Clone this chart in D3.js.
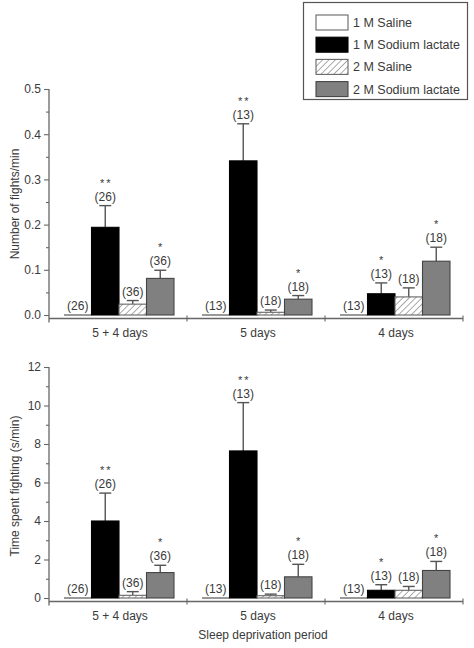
<!DOCTYPE html>
<html>
<head>
<meta charset="utf-8">
<script src="https://cdn.jsdelivr.net/npm/d3@7"></script>
<style>
  html, body { margin: 0; padding: 0; background: #fff; }
  svg { display: block; font-family: "Liberation Sans", Arial, sans-serif; }
</style>
</head>
<body>
<svg id="chart" width="474" height="648"></svg>
<script>
// ---- data ----
const groups = ["5 + 4 days", "5 days", "4 days"];
const series = ["1 M Saline", "1 M Sodium lactate", "2 M Saline", "2 M Sodium lactate"];

const fightsMean = [[0, 0.194, 0.024, 0.081], [0, 0.341, 0.006, 0.035], [0, 0.047, 0.040, 0.119]];
const fightsErr  = [[0, 0.242, 0.032, 0.099], [0, 0.423, 0.011, 0.043], [0, 0.071, 0.060, 0.150]];
const timeMean   = [[0, 4.0, 0.14, 1.32], [0, 7.64, 0.12, 1.10], [0, 0.40, 0.40, 1.43]];
const timeErr    = [[0, 5.45, 0.33, 1.70], [0, 10.15, 0.20, 1.75], [0, 0.69, 0.60, 1.90]];
const nLabels    = [[26, 26, 36, 36], [13, 13, 18, 18], [13, 13, 18, 18]];
const sigLabels  = [["", "**", "", "*"], ["", "**", "", "*"], ["", "*", "", "*"]];

const fightsTicks = [0.0, 0.1, 0.2, 0.3, 0.4, 0.5];
const fightsMinor = [0.05, 0.15, 0.25, 0.35, 0.45];
const timeTicks = [0, 2, 4, 6, 8, 10, 12];
const timeMinor = [1, 3, 5, 7, 9, 11];

const yTitles = ["Number of fights/min", "Time spent fighting (s/min)"];
const xTitle = "Sleep deprivation period";

// ---- layout ----
const svg = d3.select("#chart");
const axisColor = "#666";
const textColor = "#3a3a3a";
const fs = 12;

const defs = svg.append("defs");
const pat = defs.append("pattern")
  .attr("id", "hatch").attr("patternUnits", "userSpaceOnUse")
  .attr("width", 4.5).attr("height", 4.5)
  .attr("patternTransform", "rotate(45)");
pat.append("rect").attr("width", 4.5).attr("height", 4.5).attr("fill", "#fff");
pat.append("line").attr("x1", 0).attr("y1", 0).attr("x2", 0).attr("y2", 4.5)
  .attr("stroke", "#666").attr("stroke-width", 1.1);

const fills = ["#ffffff", "#000000", "url(#hatch)", "#808080"];
const strokes = ["#666", "#000", "#666", "#444"];

const x0 = d3.scaleBand().domain(groups).range([49, 463]);
const x1 = d3.scaleBand().domain(series).range([15, 125]);

function panel(opts) {
  const { yDomain, yTop, yBottom, ticks, minor, fmt, mean, err, title, titleY, showXTitle } = opts;
  const y = d3.scaleLinear().domain(yDomain).range([yBottom, yTop]);
  const g = svg.append("g");
  const xAxisY = yBottom + 3.5;

  // y axis
  const yAxis = d3.axisLeft(y).tickValues(ticks).tickFormat(fmt).tickSize(5).tickSizeOuter(0);
  const ya = g.append("g").attr("transform", "translate(49,0)").call(yAxis);
  ya.select(".domain").remove();
  ya.selectAll(".tick line").attr("stroke", axisColor).attr("stroke-width", 1.1);
  ya.selectAll(".tick text").attr("fill", textColor).attr("font-size", fs)
    .attr("font-family", "Liberation Sans, Arial, sans-serif").attr("x", -8);
  const yMinor = d3.axisLeft(y).tickValues(minor).tickFormat("").tickSize(3).tickSizeOuter(0);
  const ym = g.append("g").attr("transform", "translate(49,0)").call(yMinor);
  ym.select(".domain").remove();
  ym.selectAll(".tick line").attr("stroke", axisColor).attr("stroke-width", 1.1);
  g.append("line").attr("x1", 49).attr("x2", 49).attr("y1", y(yDomain[1])).attr("y2", xAxisY + 4)
    .attr("stroke", axisColor).attr("stroke-width", 1.3);

  // x axis
  g.append("line").attr("x1", 49).attr("x2", 463).attr("y1", xAxisY).attr("y2", xAxisY)
    .attr("stroke", axisColor).attr("stroke-width", 1.3);
  const bounds = groups.slice(1).map(d => x0(d)).concat([x0.range()[1]]);
  g.selectAll(".xt").data(bounds).enter().append("line")
    .attr("x1", d => d).attr("x2", d => d).attr("y1", xAxisY - 3).attr("y2", xAxisY + 3)
    .attr("stroke", axisColor).attr("stroke-width", 1.1);
  g.selectAll(".xl").data(groups).enter().append("text")
    .attr("x", d => x0(d) + x0.bandwidth() / 2 + 2).attr("y", xAxisY + 18)
    .attr("text-anchor", "middle").attr("font-size", fs).attr("fill", textColor).text(d => d);

  // bars
  groups.forEach((grp, gi) => {
    series.forEach((s, si) => {
      const bx = x0(grp) + x1(s);
      const bw = x1.bandwidth();
      const v = mean[gi][si];
      const e = err[gi][si];
      if (v <= 0) {
        g.append("line").attr("x1", bx).attr("x2", bx + bw).attr("y1", y(0)).attr("y2", y(0))
          .attr("stroke", "#555").attr("stroke-width", 1.2);
      } else {
        if (e > v) {
          g.append("line").attr("x1", bx + bw / 2).attr("x2", bx + bw / 2)
            .attr("y1", y(v)).attr("y2", y(e)).attr("stroke", "#555").attr("stroke-width", 1.4);
          g.append("line").attr("x1", bx + bw / 2 - 6).attr("x2", bx + bw / 2 + 6)
            .attr("y1", y(e)).attr("y2", y(e)).attr("stroke", "#555").attr("stroke-width", 1.4);
        }
        g.append("rect").attr("x", bx).attr("y", y(v)).attr("width", bw)
          .attr("height", Math.max(1, y(0) - y(v)))
          .attr("fill", fills[si]).attr("stroke", strokes[si]).attr("stroke-width", 1.1);
      }
      const top = Math.min(y(Math.max(v, e)), y(0));
      g.append("text").attr("x", bx + bw / 2).attr("y", top - 5).attr("text-anchor", "middle")
        .attr("font-size", fs).attr("fill", textColor).text("(" + nLabels[gi][si] + ")");
      if (sigLabels[gi][si]) {
        g.append("text").attr("x", bx + bw / 2 + 1).attr("y", top - 19).attr("text-anchor", "middle")
          .attr("font-size", 11).attr("fill", textColor).attr("letter-spacing", 2)
          .text(sigLabels[gi][si]);
      }
    });
  });

  // y title
  g.append("text").attr("transform", `translate(19,${titleY}) rotate(-90)`)
    .attr("text-anchor", "middle").attr("font-size", fs).attr("fill", textColor).text(title);

  if (showXTitle) {
    g.append("text").attr("x", 263).attr("y", 639).attr("text-anchor", "middle")
      .attr("font-size", fs).attr("fill", textColor).text(xTitle);
  }
}

panel({ yDomain: [0, 0.5], yTop: 89, yBottom: 315, ticks: fightsTicks, minor: fightsMinor,
  fmt: d3.format(".1f"), mean: fightsMean, err: fightsErr, title: yTitles[0], titleY: 204 });
panel({ yDomain: [0, 12], yTop: 367, yBottom: 598, ticks: timeTicks, minor: timeMinor,
  fmt: d3.format("d"), mean: timeMean, err: timeErr, title: yTitles[1], titleY: 486, showXTitle: true });

// legend
const lg = svg.append("g");
lg.append("rect").attr("x", 303.5).attr("y", 2.5).attr("width", 164).attr("height", 97)
  .attr("fill", "#fff").attr("stroke", "#555").attr("stroke-width", 1.2);
series.forEach((s, i) => {
  const yy = 15 + i * 22.2;
  lg.append("rect").attr("x", 316).attr("y", yy).attr("width", 32).attr("height", 15)
    .attr("fill", fills[i]).attr("stroke", strokes[i]).attr("stroke-width", 1.1);
  lg.append("text").attr("x", 353).attr("y", yy + 12).attr("font-size", 12.5)
    .attr("fill", textColor).text(s);
});
</script>
</body>
</html>
